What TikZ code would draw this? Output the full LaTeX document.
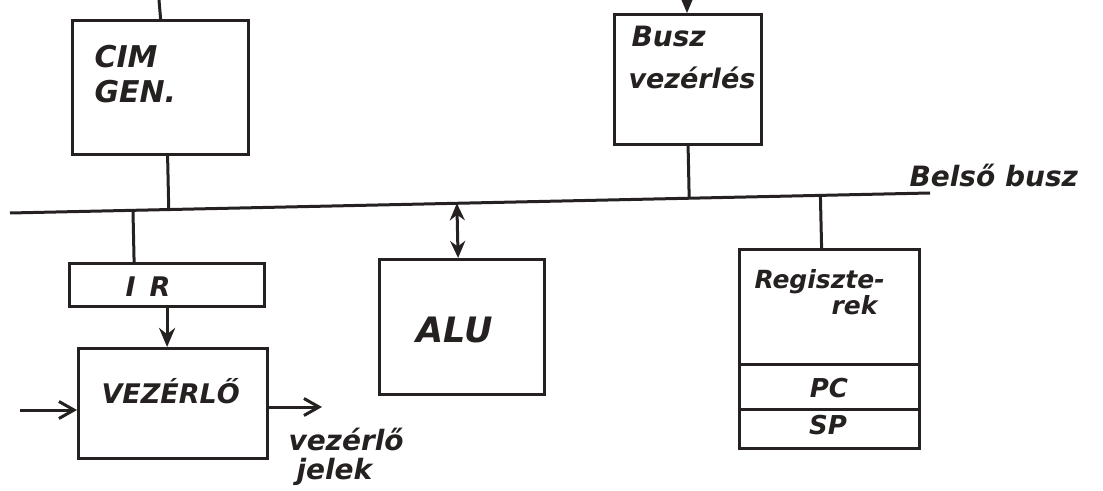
\documentclass[tikz,border=0pt]{standalone}
\usepackage{fontspec}
\setmainfont{DejaVu Sans}
\usetikzlibrary{arrows.meta,calc}
\definecolor{ink}{RGB}{38,33,33}
\newcommand{\hf}[1]{\bfseries\itshape\fontsize{#1}{#1}\selectfont}
\begin{document}
\begin{tikzpicture}[x=1bp,y=-1bp,
  every path/.style={draw=ink,line width=3bp},
  box/.style={draw=ink,line width=3.2bp,inner sep=0pt,anchor=north west},
  lbl/.style={text=ink,inner sep=0pt,anchor=base west},
  fa/.style={-{Stealth[length=19bp,width=16bp]}},
  oa/.style={-{Straight Barb[length=15bp,width=17bp]}},
]
\useasboundingbox[fill=white,draw=none] (0,0) rectangle (1103,491);

% bus
\coordinate (busL) at (10,213);
\coordinate (busR) at (930,193);
\draw (busL) -- (busR);
\node[lbl,font=\hf{28bp}] (bb) at (908,187) {Belső busz};

% CIM GEN
\node[box,minimum width=176bp,minimum height=134bp] (cim) at (71,19) {};
\node[lbl,font=\hf{30bp}] (cimt1) at (93,68) {CIM};
\node[lbl,font=\hf{30bp}] (cimt2) at (93,103) {GEN.};
\coordinate (cimin) at (159,0);
\draw (cimin) -- (cim.north);
\draw ([xshift=7bp]cim.south) -- ($(busL)!([xshift=7bp]cim.south)!(busR)$);

% Busz vezerles
\node[box,minimum width=147bp,minimum height=130bp] (busz) at (613,13) {};
\node[lbl,font=\hf{28bp}] (buszt1) at (630,47) {Busz};
\node[lbl,font=\hf{27bp}] (buszt2) at (627,89) {vezérlés};
\coordinate (buszin) at (687,-2);
\draw[fa] (buszin) -- (buszin |- busz.north);
\draw (busz.south) -- ($(busL)!(busz.south)!(busR)$);

% IR
\node[box,minimum width=195bp,minimum height=43bp] (ir) at (68,262) {};
\node[lbl,font=\hf{27bp}] (irt) at (124,297) {I\hspace{14bp}R};
\draw ([xshift=-33bp]ir.north) -- ($(busL)!([xshift=-33bp]ir.north)!(busR)$);

% VEZERLO
\node[box,minimum width=189bp,minimum height=110bp] (vez) at (77,347) {};
\node[lbl,font=\hf{27bp}] (vezt) at (100,403) {VEZÉRLŐ};
\draw[fa] (ir.south) -- (ir.south |- vez.north);
\coordinate (vin) at (20,410);
\draw[oa] (vin) -- (vin -| vez.west);
\coordinate (vout) at (322,407);
\draw[oa] (vez.east |- vout) -- (vout);
\node[lbl,font=\hf{28bp}] (jel1) at (287,450) {vezérlő};
\node[lbl,font=\hf{28bp}] (jel2) at (295,479) {jelek};

% ALU
\node[box,minimum width=165bp,minimum height=135bp] (alu) at (378,258) {};
\node[lbl,font=\hf{35bp}] (alut) at (415,343) {ALU};
\draw[{Stealth[length=17bp,width=15bp]}-{Stealth[length=17bp,width=15bp]}]
  ($(busL)!([xshift=-4bp]alu.north)!(busR)$) -- ([xshift=-4bp]alu.north);

% Regiszterek
\node[box,minimum width=180bp,minimum height=199bp] (reg) at (738,248) {};
\node[box,minimum width=180bp,minimum height=45bp] (pc) at (738,363) {};
\node[box,minimum width=180bp,minimum height=39bp] (sp) at (738,408) {};
\node[lbl,font=\hf{26bp},anchor=base] (pct) at (829,397) {PC};
\node[lbl,font=\hf{26bp},anchor=base] (spt) at (828,434) {SP};
\node[lbl,font=\hf{25bp}] (regt1) at (753,289) {Regiszte-};
\node[lbl,font=\hf{25bp}] (regt2) at (830,315) {rek};
\draw ([xshift=-8bp]reg.north) -- ($(busL)!([xshift=-8bp]reg.north)!(busR)$);
\end{tikzpicture}
\end{document}
